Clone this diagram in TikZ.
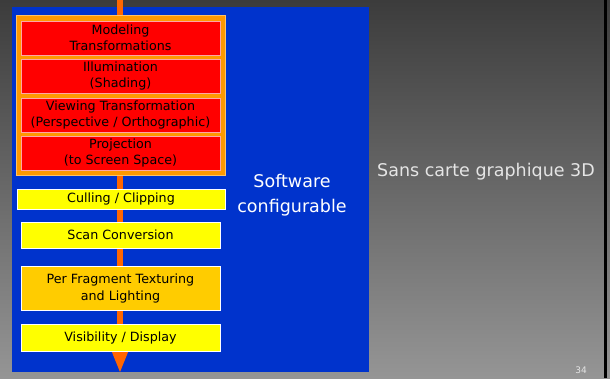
\documentclass[tikz,border=0pt]{standalone}
\usepackage{fontspec}
\setmainfont{DejaVu Sans}
\usepackage{tikz}
\definecolor{slideblue}{HTML}{0033CC}
\definecolor{pipeorange}{HTML}{FF6600}
\definecolor{frameorange}{HTML}{FF9900}
\definecolor{stagered}{HTML}{FF0000}
\definecolor{stageyellow}{HTML}{FFFF00}
\definecolor{stagegold}{HTML}{FFCC00}
\definecolor{bgtop}{HTML}{3C3C3C}
\definecolor{bgbottom}{HTML}{959595}

\begin{document}
\begin{tikzpicture}[x=1pt,y=-1pt]
\tikzstyle{every node}+=[inner sep=0pt, font=\fontsize{12.7}{16}\selectfont]
\tikzstyle{redstage}=[fill=stagered, draw=red!35!white, line width=0.8pt, minimum width=199pt, align=center]
\tikzstyle{yellowstage}=[fill=stageyellow, draw=white, line width=0.8pt, minimum width=199pt, align=center]
\useasboundingbox (0,0) rectangle (610,378);
% slide background
\shade [top color=bgtop, bottom color=bgbottom] (0,0) rectangle (610,378);
\fill [black] (604,0) rectangle (607,378);
\fill [slideblue] (12,7) rectangle (369,372);
% pipeline arrow
\coordinate (pipetop) at (120,0);
\coordinate (pipebase) at (120,352);
\coordinate (pipetip) at (120,372);
\draw [pipeorange, line width=6pt] (pipetop) -- (pipebase);
\fill [pipeorange] (pipetip) -- ++(-8.5,-21) -- ++(17,0) -- cycle;
% configurable part
\draw [frameorange!60!white, fill=frameorange, line width=0.8pt] (16,15) rectangle (225,175);
\node [redstage, minimum height=34pt] (modeling) at (120.5,38) {Modeling\\Transformations};
\node [redstage, minimum height=34pt] (illum) at (120.5,76) {Illumination\\(Shading)};
\node [redstage, minimum height=34pt] (viewing) at (120.5,115) {Viewing Transformation\\(Perspective / Orthographic)};
\node [redstage, minimum height=34pt] (proj) at (120.5,153) {Projection\\(to Screen Space)};
% fixed stages
\node [yellowstage, minimum width=208pt, minimum height=20pt] (culling) at (121,199) {Culling / Clipping};
\node [yellowstage, minimum height=26pt] (scan) at (120.5,235) {Scan Conversion};
\node [yellowstage, fill=stagegold, minimum height=44pt, font=\fontsize{12.7}{17}\selectfont] (fragment) at (120.5,288) {Per Fragment Texturing\\and Lighting};
\node [yellowstage, minimum height=27pt] (visib) at (120.5,337.5) {Visibility / Display};
% labels
\node [white, align=center, font=\fontsize{17.5}{25}\selectfont] (software) at (292,195) {Software\\configurable};
\node [anchor=west, text=black!10, font=\fontsize{17.5}{20}\selectfont] (sanscarte) at (377,172) {Sans carte graphique 3D};
\node [text=black!10, font=\fontsize{9}{10}\selectfont] (pagenum) at (581,370) {34};
\end{tikzpicture}
\end{document}
